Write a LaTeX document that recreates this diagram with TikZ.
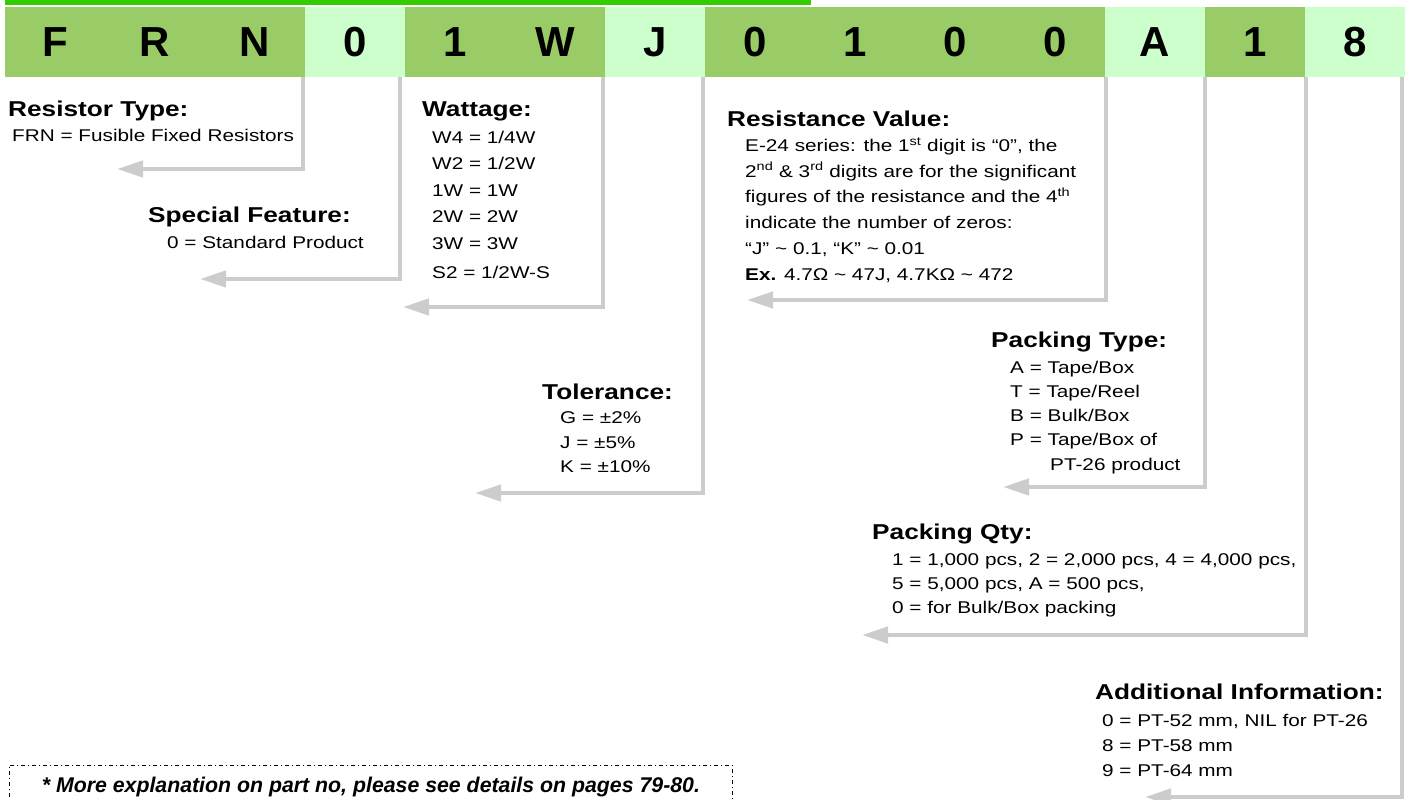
\documentclass[tikz,border=0pt]{standalone}
\usepackage{fontspec}
\setmainfont{Liberation Sans}[FakeStretch=1.22]
\newfontfamily\codefont{Liberation Sans}
\usetikzlibrary{arrows.meta}
\definecolor{topgreen}{HTML}{33CC00}
\definecolor{celldark}{HTML}{99CC66}
\definecolor{celllight}{HTML}{CCFFCC}
\definecolor{linegray}{HTML}{CCCCCC}

\tikzset{
  cell/.style={minimum width=100pt, minimum height=70pt, inner sep=0, font=\codefont\bfseries\fontsize{42}{42}\selectfont},
  head/.style={anchor=base west, inner sep=0, font=\bfseries\fontsize{21.5}{25}\selectfont},
  items/.style={anchor=base west, inner sep=0, align=left, font=\fontsize{17}{#1}\selectfont},
  items/.default=25,
  conn/.style={draw=linegray, line width=4.5pt, -{Triangle[length=26pt,width=16pt]}},
}

\begin{document}
\begin{tikzpicture}[x=1pt, y=-1pt]
    \useasboundingbox (0,0) rectangle (1409,800);

    \fill[topgreen] (5,0) rectangle (811,5);

    \foreach \ch/\col [count=\i] in {F/celldark, R/celldark, N/celldark, 0/celllight, 1/celldark, W/celldark, J/celllight,
                                      0/celldark, 1/celldark, 0/celldark, 0/celldark, A/celllight, 1/celldark, 8/celllight}
        \node[cell, fill=\col] (c\i) at (100*\i-45,42) {\ch};

    % multi-line items sit on the baseline of their last line
    \node[head] (typeH) at (8,117) {Resistor Type:};
    \node[items] (typeT) at (12,141.3) {FRN = Fusible Fixed Resistors};

    \node[head] (featH) at (148,222.7) {Special Feature:};
    \node[items] (featT) at (167,248) {0 = Standard Product};

    \node[head] (wattH) at (422,116) {Wattage:};
    \node[items=26.6] (wattT) at (432,278) {W4 = 1/4W\\ W2 = 1/2W\\ 1W = 1W\\ 2W = 2W\\ 3W = 3W\\[2pt] S2 = 1/2W-S};

    \node[head] (tolH) at (542,399.3) {Tolerance:};
    \node[items=24.4] (tolT) at (560,472.7) {G = ±2\%\\ J = ±5\%\\ K = ±10\%};

    \node[head] (resH) at (727,126) {Resistance Value:};
    \node[items=25.7] (resT) at (745,280) {E-24 series: the 1\textsuperscript{st} digit is “0”, the\\
        2\textsuperscript{nd} \& 3\textsuperscript{rd} digits are for the significant\\
        figures of the resistance and the 4\textsuperscript{th}\\
        indicate the number of zeros:\\
        “J” \textasciitilde{} 0.1, “K” \textasciitilde{} 0.01\\
        \textbf{Ex.} 4.7Ω \textasciitilde{} 47J, 4.7KΩ \textasciitilde{} 472};

    \node[head] (packH) at (991,347.3) {Packing Type:};
    \node[items=24.2] (packT) at (1010,470.1) {A = Tape/Box\\ T = Tape/Reel\\ B = Bulk/Box\\ P = Tape/Box of\\ \hspace*{40pt}PT-26 product};

    \node[head] (qtyH) at (872,539.3) {Packing Qty:};
    \node[items=24] (qtyT) at (892,613) {1 = 1,000 pcs, 2 = 2,000 pcs, 4 = 4,000 pcs,\\ 5 = 5,000 pcs, A = 500 pcs,\\ 0 = for Bulk/Box packing};

    \node[head] (addH) at (1095,699.3) {Additional Information:};
    \node[items=25.4] (addT) at (1102,776.8) {0 = PT-52 mm, NIL for PT-26\\ 8 = PT-58 mm\\ 9 = PT-64 mm};

    \coordinate (t1) at (117,169);
    \coordinate (t2) at (200,279);
    \coordinate (t3) at (403,307);
    \coordinate (t4) at (475,493);
    \coordinate (t5) at (747,300);
    \coordinate (t6) at (1003,487);
    \coordinate (t7) at (862,635);
    \coordinate (t8) at (1145,797);

    \draw[conn] ([xshift=-2pt]c3.south east) |- (t1);
    \draw[conn] ([xshift=-5pt]c4.south east) |- (t2);
    \draw[conn] ([xshift=-2pt]c6.south east) |- (t3);
    \draw[conn] ([xshift=-2pt]c7.south east) |- (t4);
    \draw[conn] ([xshift=1pt]c11.south east) |- (t5);
    \draw[conn] (c12.south east) |- (t6);
    \draw[conn] ([xshift=1pt]c13.south east) |- (t7);
    \draw[conn] ([xshift=-3pt]c14.south east) |- (t8);

    \node[draw, line width=0.8pt, dash pattern=on 4pt off 3pt on 1pt off 3pt, anchor=north west,
          minimum width=723pt, minimum height=44pt, inner sep=0,
          font=\codefont\bfseries\itshape\fontsize{21.3}{25}\selectfont] (note) at (9,765)
        {* More explanation on part no, please see details on pages 79-80.};
\end{tikzpicture}
\end{document}
